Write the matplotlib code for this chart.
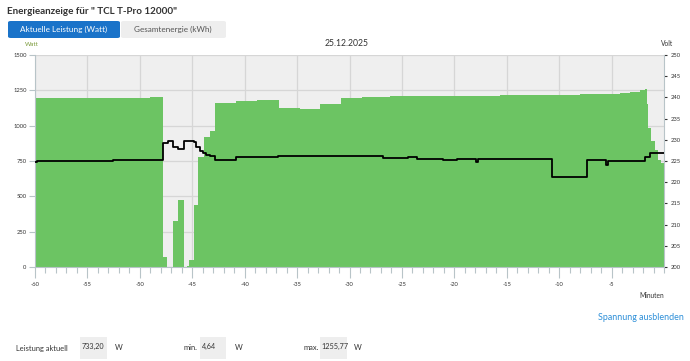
import numpy as np
import matplotlib
matplotlib.use("Agg")
import matplotlib.pyplot as plt
from matplotlib.patches import FancyBboxPatch, Rectangle
from matplotlib.ticker import MultipleLocator

GREEN = "#6cc463"
BG = "#efefef"
GRID = "#d6d6d6"
BLUE = "#1a73c9"
DARK = "#333333"

plt.rcParams["font.family"] = ["Lato", "DejaVu Sans"]
plt.rcParams["axes.unicode_minus"] = False

# power (Watt), step data: minute -> value
power_min = [-60, -55.7, -52.6, -50.9, -49.0, -47.8, -47.4, -46.8, -46.35, -45.8, -45.5,
             -45.3, -44.8, -44.45, -43.9, -43.3, -42.8, -40.8, -38.8, -36.7, -34.7,
             -32.8, -30.8, -28.8, -26.1, -23.3, -19.4, -15.6, -11.8, -8.0, -6.1,
             -4.2, -3.2, -2.3, -1.85, -1.6, -1.5, -1.2, -0.9, -0.6, -0.3, 0]
power_w = [1193, 1195, 1194, 1198, 1203, 73, 0, 325, 474, 0, 5,
           50, 437, 778, 920, 962, 1163, 1175, 1182, 1123, 1118,
           1153, 1196, 1203, 1208, 1210, 1213, 1216, 1220, 1223, 1226,
           1230, 1240, 1250, 1256, 1150, 980, 890, 830, 760, 733, 733]

# voltage (Volt), step data
volt_min = [-60, -59.8, -52.6, -47.8, -47.3, -46.8, -46.35, -45.8, -45.2, -44.8, -44.6,
            -44.25, -43.95, -43.7, -43.3, -42.8, -40.8, -36.8, -26.8, -24.4, -23.55,
            -21.07, -19.73, -17.92, -17.73, -10.67, -7.33, -5.52, -5.33, -1.8, -1.34, 0]
volt_v = [224.8, 225.0, 225.2, 229.2, 229.6, 228.2, 227.9, 229.8, 229.6, 229.4, 228.4,
          227.4, 226.8, 226.4, 226.2, 225.2, 225.9, 226.1, 225.8, 226.0, 225.5,
          225.2, 225.5, 224.8, 225.5, 221.2, 225.2, 224.0, 225.0, 226.0, 226.9, 226.9]

W, H = 690, 361
fig = plt.figure(figsize=(W / 100, H / 100), dpi=100)

def fx(px):
    return px / W

def fy(py):
    return 1 - py / H

# header
fig.text(fx(7), fy(12), 'Energieanzeige für " TCL T-Pro 12000"', fontsize=7.1,
         fontweight="bold", color=DARK, va="center")
fig.patches.append(FancyBboxPatch((fx(121), fy(38)), fx(105), 17 / H,
                                  boxstyle="round,pad=0,rounding_size=0.004",
                                  transform=fig.transFigure, fc="#eeeeee", ec="none"))
fig.patches.append(FancyBboxPatch((fx(8), fy(38)), fx(112), 17 / H,
                                  boxstyle="round,pad=0,rounding_size=0.004",
                                  transform=fig.transFigure, fc=BLUE, ec="none"))
fig.text(fx(64), fy(29.5), "Aktuelle Leistung (Watt)", fontsize=5.9, color="white",
         ha="center", va="center")
fig.text(fx(173), fy(29.5), "Gesamtenergie (kWh)", fontsize=5.9, color="#555555",
         ha="center", va="center")
fig.text(fx(347), fy(43), "25.12.2025", fontsize=6.2, color=DARK, ha="center", va="center")
fig.text(fx(32), fy(44), "Watt", fontsize=4.4, color="#7a9a3a", ha="center", va="center")
fig.text(fx(667), fy(44), "Volt", fontsize=4.8, color=DARK, ha="center", va="center")

ax = fig.add_axes([fx(35), fy(267), fx(664 - 35), (267 - 55) / H])
ax.set_facecolor(BG)
ax.fill_between(power_min, power_w, 0, step="post", color=GREEN, lw=0, zorder=2)
ax.set_xlim(-60, 0)
ax.set_ylim(0, 1500)
ax.xaxis.set_minor_locator(MultipleLocator(1))
ax.yaxis.set_major_locator(MultipleLocator(250))
ax.set_xticks(np.arange(-60, 0, 5))
ax.grid(True, color=GRID, lw=0.9, zorder=0)
ax.set_axisbelow(True)
for s in ["top", "right"]:
    ax.spines[s].set_visible(False)
ax.spines["left"].set_color("#b8c4c8")
ax.spines["bottom"].set_color("#b8c4c8")
ax.tick_params(axis="y", labelsize=4.2, colors="#b8c4c8", labelcolor=DARK, length=4, width=0.8, pad=2)
ax.tick_params(axis="x", which="major", labelsize=4.2, colors="#b8c4c8", labelcolor=DARK,
               length=8, width=0.8, pad=3)
ax.tick_params(axis="x", which="minor", colors="#b8c4c8", length=4, width=0.8)

ax2 = ax.twinx()
ax2.step(volt_min, volt_v, where="post", color="black", lw=1.3, zorder=3)
ax2.set_ylim(200, 250)
ax2.yaxis.set_major_locator(MultipleLocator(5))
for s in ["top", "left", "bottom"]:
    ax2.spines[s].set_visible(False)
ax2.spines["right"].set_color("#b8c4c8")
ax2.tick_params(axis="y", labelsize=4.2, colors=DARK, length=2.5, width=0.8, pad=2)

fig.text(fx(652), fy(295), "Minuten", fontsize=4.8, color=DARK, ha="center", va="center")
fig.text(fx(641), fy(318), "Spannung ausblenden", fontsize=6.4, color="#2d8fd8",
         ha="center", va="center")

# bottom stats row
fig.text(fx(16), fy(348), "Leistung aktuell", fontsize=5.4, color=DARK, va="center")
for x0, w, label, unit_x in [(80, 27, "733,20", 115), (200, 26, "4,64", 235), (320, 27, "1255,77", 354)]:
    fig.patches.append(Rectangle((fx(x0), fy(359)), fx(w), 22 / H, transform=fig.transFigure,
                                 fc="#eeeeee", ec="none"))
    fig.text(fx(x0 + 1.5), fy(346), label, fontsize=5.2, color=DARK, va="center")
    fig.text(fx(unit_x), fy(348), "W", fontsize=5.4, color=DARK, va="center")
fig.text(fx(184), fy(348), "min.", fontsize=5.4, color=DARK, va="center")
fig.text(fx(304), fy(348), "max.", fontsize=5.4, color=DARK, va="center")

fig.savefig("out.png", dpi=100, facecolor="white")
